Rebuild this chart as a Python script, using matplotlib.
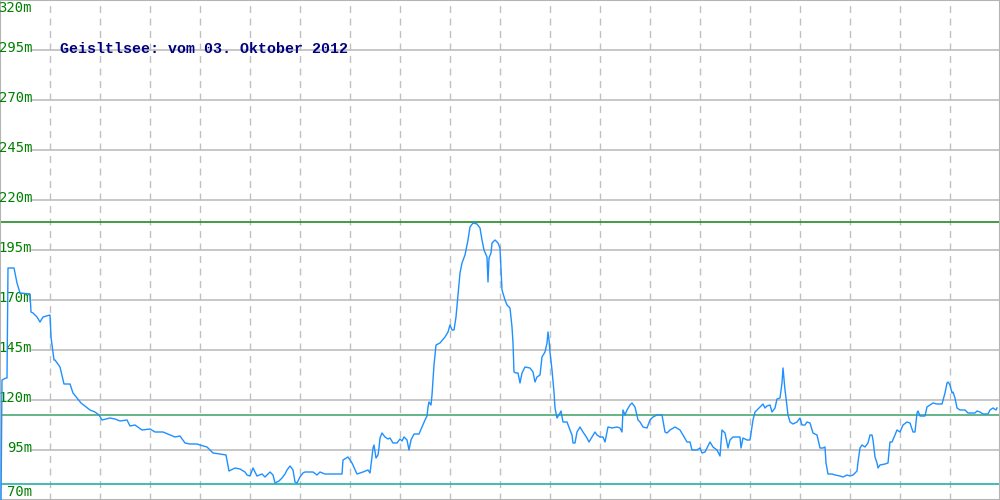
import matplotlib
matplotlib.use("Agg")
import matplotlib.pyplot as plt

title = "Geisltlsee: vom 03. Oktober 2012"

# horizontal position along the track (chart units 0..1000) and water level in m
pos = [1, 2, 6, 7, 8, 14, 17, 20, 30, 31, 33, 37, 40, 43, 50, 51, 54, 55, 60, 64,
       70, 73, 77, 81, 90, 95, 99, 102, 110, 115, 120, 127, 130, 135, 142, 150, 155, 163, 175, 180,
       185, 190, 197, 200, 207, 210, 213, 220, 226, 229, 235, 240, 245, 247, 250, 253, 257, 262, 265, 270,
       273, 275, 279, 282, 285, 287, 290, 293, 295, 297, 300, 303, 305, 313, 317, 320, 325, 342, 343, 348,
       352, 357, 363, 368, 370, 372, 373, 374, 376, 378, 379, 380, 382, 385, 388, 390, 393, 397, 400, 402,
       404, 407, 409, 411, 414, 419, 422, 425, 427, 428, 429, 431, 432, 433, 434, 436, 440, 445, 448, 450,
       452, 454, 456, 458, 460, 462, 465, 468, 470, 473, 477, 480, 482, 484, 487, 488, 489, 491, 492, 495,
       498, 500, 502, 505, 507, 510, 512, 513, 514, 516, 518, 520, 522, 525, 530, 533, 535, 537, 540, 542,
       545, 547, 548, 549, 550, 552, 554, 555, 557, 560, 561, 563, 567, 570, 572, 573, 575, 577, 580, 583,
       587, 589, 592, 595, 597, 600, 603, 605, 608, 612, 617, 620, 622, 623, 625, 627, 630, 632, 635, 638,
       640, 643, 647, 650, 653, 657, 662, 665, 667, 670, 675, 680, 683, 687, 690, 692, 697, 700, 702, 705,
       710, 713, 717, 720, 722, 725, 728, 730, 733, 740, 741, 743, 747, 750, 753, 755, 757, 760, 763, 765,
       767, 770, 772, 775, 777, 780, 782, 783, 785, 786, 788, 790, 793, 797, 800, 802, 805, 807, 810, 813,
       817, 820, 823, 825, 826, 828, 832, 835, 840, 843, 847, 850, 853, 857, 858, 860, 862, 865, 868, 870,
       872, 873, 875, 877, 878, 880, 885, 888, 890, 892, 895, 897, 900, 903, 907, 910, 913, 915, 917, 918,
       920, 925, 927, 930, 933, 937, 942, 945, 947, 948, 950, 952, 953, 955, 957, 960, 965, 968, 975, 977,
       980, 983, 988, 990, 993, 996, 997]
level = [68, 130, 131, 131, 186, 186, 178.5, 173.5, 173, 164, 163.5, 161.5, 159, 161.5, 162.5, 151.5, 140, 140, 136.5, 128,
         128, 123.5, 121, 118.5, 115, 114, 112.5, 110, 111, 110.5, 109.5, 110, 107, 107.5, 105, 105.5, 104, 104, 101.5, 102,
         98.5, 98, 98, 97.5, 96.5, 95, 93.5, 93, 92.5, 84.5, 86, 85.5, 84, 82.5, 82, 86, 82, 83, 81.5, 84,
         82.5, 78.5, 79.5, 81, 83, 85, 87, 85, 79, 78.5, 81.5, 83.5, 84, 84, 82.5, 84, 83, 83, 90, 91.5,
         88.5, 83, 84, 85, 83.5, 91.5, 96, 97.5, 91, 92.5, 96, 101, 103.5, 101.5, 100.5, 101, 98.5, 98.5, 100.5, 99.5,
         101.5, 100, 95, 100, 103, 103, 106.5, 110, 112, 116.5, 119, 117.5, 122.5, 130, 137.5, 147.5, 148.5, 151.5, 154, 157.5,
         155, 155, 161.5, 172.5, 183.5, 188.5, 192.5, 200, 206.5, 208.5, 208, 206, 200, 195, 191.5, 179, 191, 193.5, 198.5, 200,
         198.5, 196, 175, 170, 167.5, 166, 156.5, 148.5, 134, 133.5, 133.5, 128.5, 133.5, 136.5, 136, 134, 129, 131.5, 132.5, 141.5,
         144, 148.5, 154, 150, 144, 135, 124, 116, 111, 113.5, 114.5, 109, 109, 105, 102.5, 98.5, 98.5, 104, 106.5, 104,
         101, 99, 101.5, 104, 102.5, 101.5, 101.5, 99, 106.5, 106, 106.5, 106, 104, 115, 112.5, 115, 117.5, 118.5, 116.5, 110,
         109, 106.5, 106, 110, 111.5, 112.5, 112.5, 104, 103.5, 105, 106.5, 105, 102.5, 99, 99, 95, 95, 96, 93.5, 94,
         99, 96.5, 95, 92, 105, 103.5, 96, 100, 101.5, 101.5, 96, 101, 100, 100, 110, 114, 115, 116.5, 118, 116,
         117, 117.5, 114, 116, 120.5, 121, 128.5, 136, 125, 121, 112.5, 109, 108, 109, 111, 107.5, 107.5, 109, 108.5, 103.5,
         102.5, 96, 96, 96.5, 88.5, 83, 83, 82.5, 82, 81.5, 82.5, 82, 82.5, 84.5, 89, 96, 97.5, 96.5, 98.5, 102.5,
         102.5, 100, 91.5, 88.5, 86, 87.5, 88, 88.5, 99, 99, 102.5, 105, 104, 107.5, 109, 108.5, 104, 104, 113.5, 114.5,
         112, 112, 116.5, 117.5, 118.5, 118, 118, 123.5, 128.5, 129, 127.5, 123.5, 124, 121, 116, 115, 115, 113.5, 113.5, 114.5,
         114, 113, 113, 115, 116, 115, 116]

y_ticks = [70, 95, 120, 145, 170, 195, 220, 245, 270, 295, 320]
x_grid = [50, 100, 150, 200, 250, 300, 350, 400, 450, 500, 550, 600, 650, 700, 750, 800, 850, 900, 950]
ref_high = 209
ref_mid = 112.5
ref_low = 78

fig = plt.figure(figsize=(10, 5), dpi=100)
ax = fig.add_axes([0, 0, 1, 1])
ax.set_xlim(0, 1000)
ax.set_ylim(70, 320)
ax.set_xticks([])
ax.set_yticks([])
for s in ax.spines.values():
    s.set_color('#b4b4b4')
    s.set_linewidth(1.5)

for v in y_ticks:
    ax.axhline(v, xmin=0.032, color='#bdbdbd', lw=1.2, zorder=1)
for x in x_grid:
    ax.axvline(x, color='#c0c0c0', lw=1.0, linestyle=(0, (5, 4)), zorder=1)

ax.axhline(ref_high, color='#228b22', lw=1.2, zorder=2)
ax.axhline(ref_mid, color='#4aa872', lw=1.2, zorder=2)
ax.axhline(ref_low, color='#20b2aa', lw=1.2, zorder=2)

for v in y_ticks:
    if v == 70:
        ax.text(32, v + 0.5, f"{v}m", ha='right', va='bottom', color='green',
                fontsize=10, family='DejaVu Sans Mono', zorder=3)
    elif v == 320:
        ax.text(32, v - 0.5, f"{v}m", ha='right', va='top', color='green',
                fontsize=10, family='DejaVu Sans Mono', zorder=3)
    else:
        ax.text(32, v + 0.8, f"{v}m", ha='right', va='center', color='green',
                fontsize=10, family='DejaVu Sans Mono', zorder=3)

ax.plot(pos, level, color='#1e90ff', lw=1.0, zorder=4)

ax.text(60, 295.5, title, color='#000080', fontsize=10.8, fontweight='bold',
        family='Liberation Mono', ha='left', va='center', zorder=5)

fig.savefig('out.png', dpi=100)
